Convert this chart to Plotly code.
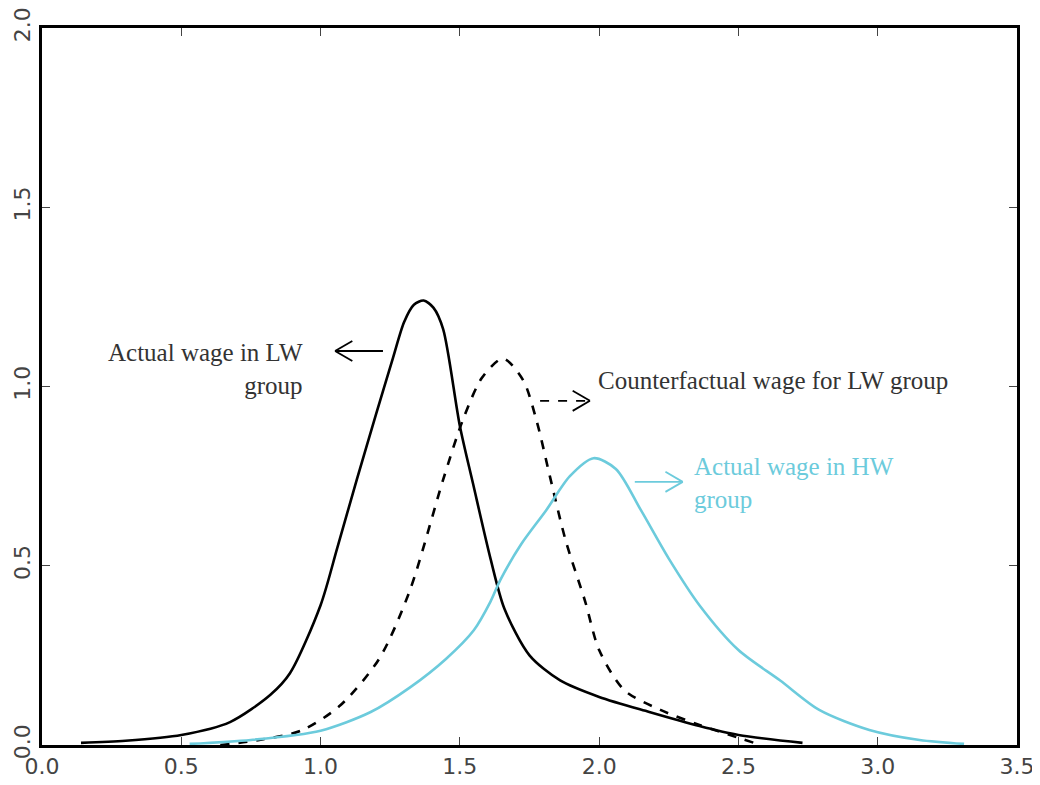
import plotly.graph_objects as go

# Actual wage in LW group (black solid)
lw_x = [0.14, 0.30, 0.50, 0.675, 0.82, 0.89, 1.00, 1.06, 1.13, 1.20, 1.26, 1.30, 1.335, 1.37, 1.405, 1.44, 1.50, 1.547, 1.61, 1.66, 1.75, 1.86, 2.00, 2.18, 2.36, 2.50, 2.73]
lw_y = [0.006, 0.012, 0.028, 0.064, 0.14, 0.20, 0.39, 0.55, 0.74, 0.925, 1.08, 1.18, 1.228, 1.24, 1.22, 1.16, 0.89, 0.73, 0.52, 0.38, 0.25, 0.18, 0.134, 0.092, 0.053, 0.028, 0.006]

# Counterfactual wage for LW group (black dashed)
cf_x = [0.64, 0.78, 0.93, 1.07, 1.21, 1.32, 1.44, 1.51, 1.58, 1.655, 1.727, 1.777, 1.823, 1.88, 1.95, 2.00, 2.09, 2.22, 2.36, 2.50, 2.58]
cf_y = [0.0, 0.014, 0.04, 0.11, 0.24, 0.43, 0.74, 0.905, 1.025, 1.078, 1.018, 0.90, 0.75, 0.57, 0.40, 0.265, 0.153, 0.098, 0.056, 0.02, 0.0]

# Actual wage in HW group (cyan)
hw_x = [0.53, 0.75, 1.00, 1.18, 1.32, 1.45, 1.55, 1.61, 1.645, 1.72, 1.81, 1.895, 1.98, 2.06, 2.15, 2.25, 2.36, 2.50, 2.65, 2.79, 2.97, 3.15, 3.31]
hw_y = [0.003, 0.014, 0.04, 0.092, 0.16, 0.24, 0.32, 0.40, 0.46, 0.56, 0.655, 0.75, 0.80, 0.77, 0.655, 0.52, 0.39, 0.265, 0.18, 0.098, 0.042, 0.014, 0.003]

x_ticks = [0.0, 0.5, 1.0, 1.5, 2.0, 2.5, 3.0, 3.5]
y_ticks = [0.0, 0.5, 1.0, 1.5, 2.0]

# Annotation arrows: (tail_x, head_x, y)
arrow_lw = (1.224, 1.052, 1.099)
arrow_cf = (1.788, 1.967, 0.96)
arrow_hw = (2.128, 2.30, 0.734)

CYAN = "#6ccbdc"

fig = go.Figure()
fig.add_trace(go.Scatter(x=lw_x, y=lw_y, mode="lines", line=dict(color="black", width=2.6, shape="spline", smoothing=0.8)))
fig.add_trace(go.Scatter(x=cf_x, y=cf_y, mode="lines", line=dict(color="black", width=2.6, dash="dash", shape="spline", smoothing=0.8)))
fig.add_trace(go.Scatter(x=hw_x, y=hw_y, mode="lines", line=dict(color=CYAN, width=2.6, shape="spline", smoothing=0.8)))

def add_arrow(tail_x, head_x, y, color, dash="solid"):
    fig.add_shape(type="line", x0=tail_x, x1=head_x, y0=y, y1=y, xref="x", yref="y",
                  line=dict(color=color, width=1.8, dash=dash))
    d = 0.062 if head_x > tail_x else -0.062
    for dy in (0.028, -0.028):
        fig.add_shape(type="line", x0=head_x - d, x1=head_x, y0=y + dy, y1=y, xref="x", yref="y",
                      line=dict(color=color, width=1.8))

add_arrow(*arrow_lw, "black")
add_arrow(*arrow_cf, "black", dash="dash")
add_arrow(*arrow_hw, CYAN)

serif = "Liberation Serif, Times New Roman, serif"
fig.add_annotation(x=0.944, y=1.049, xref="x", yref="y", text="Actual wage in LW<br>group", showarrow=False,
                   xanchor="right", yanchor="middle", align="right", font=dict(family=serif, size=25, color="#333333"))
fig.add_annotation(x=1.99, y=1.018, xref="x", yref="y", text="Counterfactual wage for LW group", showarrow=False,
                   xanchor="left", yanchor="middle", align="left", font=dict(family=serif, size=25, color="#333333"))
fig.add_annotation(x=2.333, y=0.731, xref="x", yref="y", text="Actual wage in HW<br>group", showarrow=False,
                   xanchor="left", yanchor="middle", align="left", font=dict(family=serif, size=25, color=CYAN))

axis_common = dict(showline=True, linewidth=3, linecolor="black", mirror="ticks", ticks="inside",
                   ticklen=8, tickwidth=1, tickcolor="#444444", showgrid=False, zeroline=False, automargin=False,
                   ticklabeloverflow="allow",
                   tickfont=dict(family="DejaVu Sans, Liberation Sans, sans-serif", size=22, color="#444444"))
fig.update_xaxes(range=[0, 3.5], tickvals=x_ticks, ticktext=[f"{v:.1f}" for v in x_ticks], **axis_common)
fig.update_yaxes(range=[0, 2.0], tickvals=y_ticks, ticktext=[f"{v:.1f}" for v in y_ticks], tickangle=-90, **axis_common)

fig.update_layout(width=1032, height=777, margin=dict(l=34, r=23, t=20, b=40),
                  plot_bgcolor="white", paper_bgcolor="white", showlegend=False)

fig.write_html("out.html")
